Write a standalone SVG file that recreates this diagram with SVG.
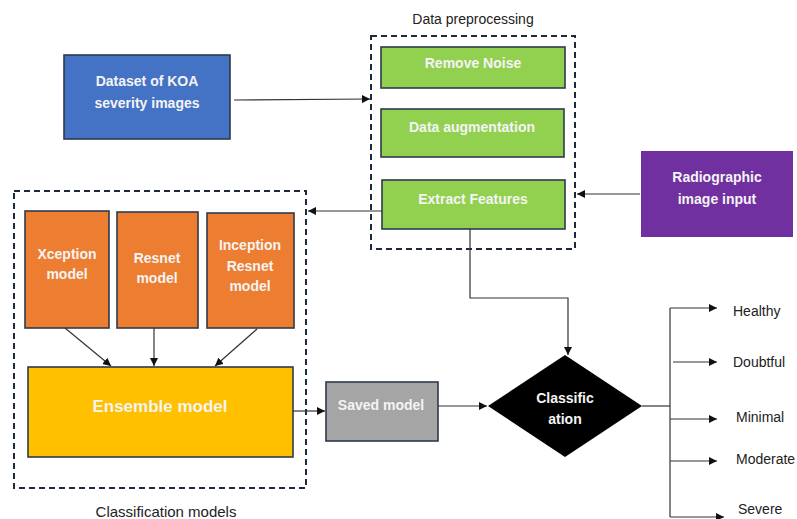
<svg xmlns="http://www.w3.org/2000/svg" width="797" height="519" viewBox="0 0 797 519">
<defs>
<marker id="ah" viewBox="0 0 10 10" refX="10" refY="5" markerWidth="8" markerHeight="8" markerUnits="userSpaceOnUse" orient="auto">
<path d="M0,0 L10,5 L0,10 Z" fill="#111"/>
</marker>
</defs>
<style>
.box{stroke:#2E3A4B;stroke-width:1.6}
.dash{fill:none;stroke:#1E2A3A;stroke-width:2;stroke-dasharray:6,4}
.bt{font-family:"Liberation Sans",Arial,sans-serif;font-weight:bold;font-size:14px;fill:#F4F4F4;text-anchor:middle;dominant-baseline:central}
.lt{font-family:"Liberation Sans",Arial,sans-serif;font-size:14px;fill:#222;dominant-baseline:central}
.ln{fill:none;stroke:#333;stroke-width:1.2}
.ar{fill:none;stroke:#333;stroke-width:1.2;marker-end:url(#ah)}
</style>
<rect width="797" height="519" fill="#fff"/>

<g id="preprocessing">
<rect class="dash" x="371" y="36" width="204" height="213"/>
<text class="lt" x="473" y="19" text-anchor="middle" font-size="16">Data preprocessing</text>
</g>
<g id="classification-models">
<rect class="dash" x="14" y="191" width="292" height="297"/>
<text class="lt" x="166" y="511" text-anchor="middle" style="font-size:15px">Classification models</text>
</g>

<g id="dataset">
<rect class="box" x="64" y="55" width="166" height="84" fill="#4472C4"/>
<text class="bt" x="147" y="81">Dataset of KOA</text>
<text class="bt" x="147" y="103">severity images</text>
</g>
<g id="remove-noise">
<rect class="box" x="381" y="47" width="184" height="41" fill="#92D050"/>
<text class="bt" x="473" y="63">Remove Noise</text>
</g>
<g id="data-augmentation">
<rect class="box" x="381" y="109" width="183" height="48" fill="#92D050"/>
<text class="bt" x="472" y="127">Data augmentation</text>
</g>
<g id="extract-features">
<rect class="box" x="382" y="180" width="183" height="49" fill="#92D050"/>
<text class="bt" x="473" y="199">Extract Features</text>
</g>
<g id="radiographic">
<rect x="641" y="151" width="152" height="86" fill="#7030A0"/>
<text class="bt" x="717" y="177">Radiographic</text>
<text class="bt" x="717" y="199">image input</text>
</g>
<g id="xception">
<rect class="box" x="25" y="211" width="84" height="117" fill="#ED7D31"/>
<text class="bt" x="67" y="254">Xception</text>
<text class="bt" x="67" y="274">model</text>
</g>
<g id="resnet">
<rect class="box" x="117" y="212" width="81" height="116" fill="#ED7D31"/>
<text class="bt" x="157" y="258">Resnet</text>
<text class="bt" x="157" y="278">model</text>
</g>
<g id="inception-resnet">
<rect class="box" x="207" y="213" width="87" height="115" fill="#ED7D31"/>
<text class="bt" x="250" y="245">Inception</text>
<text class="bt" x="250" y="266">Resnet</text>
<text class="bt" x="250" y="286">model</text>
</g>
<g id="ensemble">
<rect class="box" x="28" y="367" width="265" height="90" fill="#FFC000"/>
<text class="bt" x="160" y="406" style="font-size:17px">Ensemble model</text>
</g>
<g id="saved-model">
<rect class="box" x="326" y="382" width="112" height="59" fill="#A5A5A5"/>
<text class="bt" x="381" y="405">Saved model</text>
</g>
<g id="classification">
<polygon points="488,406 565,355 642,406 565,457" fill="#000"/>
<text class="bt" x="565" y="398">Classific</text>
<text class="bt" x="565" y="419">ation</text>
</g>
<g id="outputs">
<text class="lt" x="733" y="311">Healthy</text>
<text class="lt" x="733" y="362">Doubtful</text>
<text class="lt" x="736" y="417">Minimal</text>
<text class="lt" x="736" y="459">Moderate</text>
<text class="lt" x="738" y="509">Severe</text>
</g>

<g id="connectors">
<line class="ar" x1="234" y1="100" x2="370" y2="99"/>
<line class="ar" x1="640" y1="194" x2="577" y2="194"/>
<line class="ar" x1="382" y1="211" x2="308" y2="211"/>
<polyline class="ar" points="470,229 470,298 568,298 568,355"/>
<line class="ar" x1="65" y1="328" x2="111" y2="366"/>
<line class="ar" x1="154" y1="328" x2="154" y2="366"/>
<line class="ar" x1="257" y1="329" x2="215" y2="366"/>
<line class="ar" x1="293" y1="411" x2="325" y2="411"/>
<line class="ar" x1="438" y1="406" x2="487" y2="406"/>
<polyline class="ln" points="642,406 670,406"/>
<line class="ln" x1="670" y1="308" x2="670" y2="517"/>
<line class="ar" x1="670" y1="308" x2="717" y2="308"/>
<line class="ar" x1="673" y1="362" x2="717" y2="362"/>
<line class="ar" x1="670" y1="419" x2="717" y2="419"/>
<line class="ar" x1="670" y1="461" x2="717" y2="461"/>
<line class="ar" x1="670" y1="517" x2="724" y2="517"/>
</g>
</svg>
